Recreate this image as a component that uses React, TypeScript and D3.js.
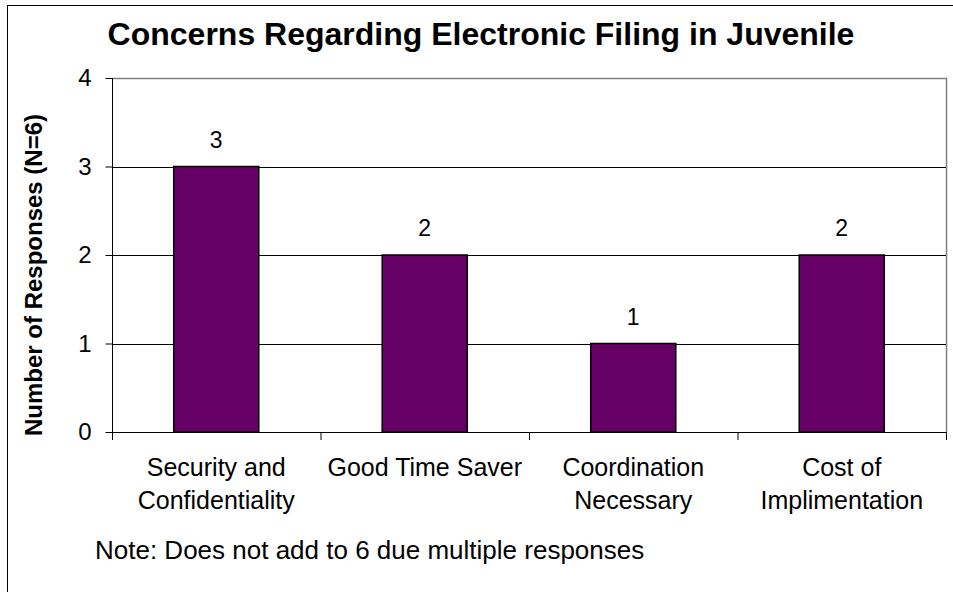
import { useEffect, useRef } from "react";
import * as d3 from "d3";

const categories = [
  ["Security and", "Confidentiality"],
  ["Good Time Saver"],
  ["Coordination", "Necessary"],
  ["Cost of", "Implimentation"],
];
const responses = [3, 2, 1, 2];
const yTicks = [0, 1, 2, 3, 4];

export default function App() {
  const svgRef = useRef<SVGSVGElement>(null);

  useEffect(() => {
    if (!svgRef.current) return;
    const width = 953;
    const height = 592;
    const margin = { top: 78, right: 7, bottom: 160, left: 112 };
    const innerW = width - margin.left - margin.right;
    const innerH = height - margin.top - margin.bottom;
    const font = "'Liberation Sans', Arial, sans-serif";

    const root = d3.select(svgRef.current);
    root.selectAll("*").remove();

    root
      .append("rect")
      .attr("x", 7.5)
      .attr("y", 5.5)
      .attr("width", 1000)
      .attr("height", 700)
      .attr("fill", "white")
      .attr("stroke", "black");

    root
      .append("text")
      .attr("x", 481)
      .attr("y", 45)
      .attr("text-anchor", "middle")
      .attr("font-family", font)
      .attr("font-weight", "bold")
      .attr("font-size", 32)
      .text("Concerns Regarding Electronic Filing in Juvenile");

    const g = root
      .append("g")
      .attr("transform", `translate(${margin.left},${margin.top})`);

    const x = d3
      .scaleBand()
      .domain(categories.map((c) => c.join(" ")))
      .range([0, innerW])
      .paddingInner(0.592)
      .paddingOuter(0.296);

    const y = d3.scaleLinear().domain([0, 4]).range([innerH, 0]);

    // plot border (top/right grey)
    g.append("path")
      .attr("d", `M0.5,${y(4) + 0.5}H${innerW + 0.5}V${innerH}`)
      .attr("fill", "none")
      .attr("stroke", "#808080")
      .attr("stroke-width", 1.5);

    // gridlines
    g.selectAll(".grid")
      .data(yTicks.filter((t) => t > 0 && t < 4))
      .join("line")
      .attr("x1", 0)
      .attr("x2", innerW)
      .attr("y1", (d) => Math.round(y(d)) + 0.5)
      .attr("y2", (d) => Math.round(y(d)) + 0.5)
      .attr("stroke", "black");

    g.selectAll(".bar")
      .data(responses)
      .join("rect")
      .attr("x", (_, i) => x(categories[i].join(" ")) || 0)
      .attr("y", (d) => y(d))
      .attr("width", x.bandwidth())
      .attr("height", (d) => innerH - y(d))
      .attr("fill", "#660066")
      .attr("stroke", "black")
      .attr("stroke-width", 1.5);

    g.selectAll(".val")
      .data(responses)
      .join("text")
      .attr("x", (_, i) => (x(categories[i].join(" ")) || 0) + x.bandwidth() / 2)
      .attr("y", (d) => y(d) - 19)
      .attr("text-anchor", "middle")
      .attr("font-family", font)
      .attr("font-size", 23)
      .text((d) => d);

    // y axis
    const yAxis = g
      .append("g")
      .attr("transform", "translate(0.5,0)")
      .call(d3.axisLeft(y).tickValues(yTicks).tickSize(7).tickPadding(14).tickFormat(d3.format("d")));
    yAxis.select(".domain").attr("stroke", "black").attr("d", `M0,${y(4)}V${innerH + 8}`);
    yAxis.selectAll("text").attr("font-family", font).attr("font-size", 24).attr("fill", "black");

    // x axis
    const step = x.step();
    const bounds = d3.range(categories.length + 1).map((i) => i * step);
    g.append("line")
      .attr("x1", 0)
      .attr("x2", innerW)
      .attr("y1", innerH + 0.5)
      .attr("y2", innerH + 0.5)
      .attr("stroke", "black");
    g.selectAll(".xtick")
      .data(bounds)
      .join("line")
      .attr("x1", (d) => d + 0.5)
      .attr("x2", (d) => d + 0.5)
      .attr("y1", innerH)
      .attr("y2", innerH + 8)
      .attr("stroke", "black");

    const labels = g
      .selectAll(".xlabel")
      .data(categories)
      .join("text")
      .attr("text-anchor", "middle")
      .attr("font-family", font)
      .attr("font-size", 25)
      .attr("transform", (d) => `translate(${(x(d.join(" ")) || 0) + x.bandwidth() / 2},${innerH + 44})`);
    labels
      .selectAll("tspan")
      .data((d) => d)
      .join("tspan")
      .attr("x", 0)
      .attr("dy", (_, i) => (i === 0 ? 0 : 33))
      .text((d) => d);

    root
      .append("text")
      .attr("transform", `translate(42,${margin.top + innerH / 2 + 20}) rotate(-90)`)
      .attr("text-anchor", "middle")
      .attr("font-family", font)
      .attr("font-weight", "bold")
      .attr("font-size", 24)
      .text("Number of Responses (N=6)");

    root
      .append("text")
      .attr("x", 95)
      .attr("y", 559)
      .attr("font-family", font)
      .attr("font-size", 26)
      .text("Note: Does not add to 6 due multiple responses");
  }, []);

  return (
    <svg
      ref={svgRef}
      width={953}
      height={592}
      style={{ position: "absolute", left: 0, top: 0, display: "block" }}
    />
  );
}
